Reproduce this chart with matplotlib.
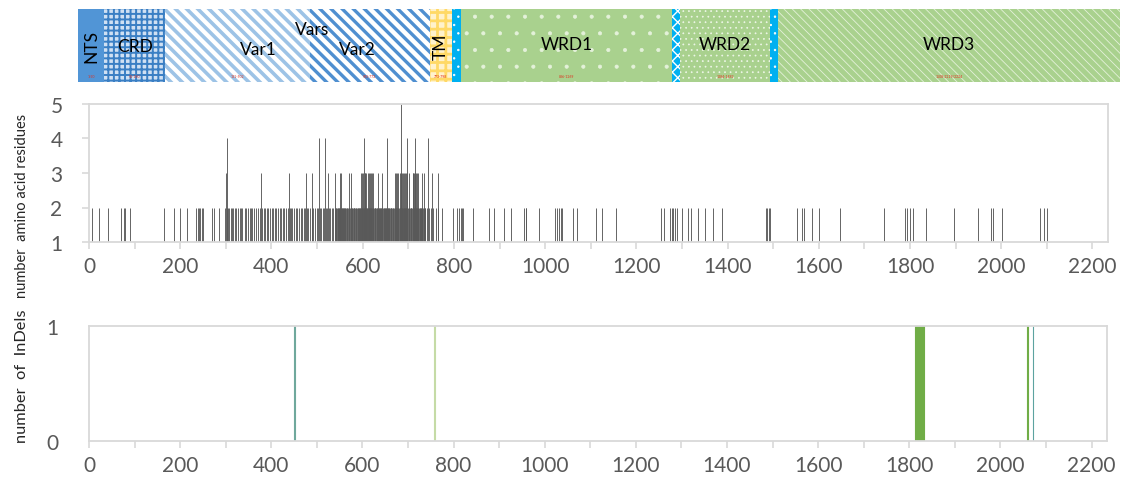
import matplotlib
matplotlib.use("Agg")
import matplotlib.pyplot as plt
from matplotlib.patches import Rectangle
from matplotlib.ticker import MultipleLocator, FuncFormatter

plt.rcParams['font.family'] = ['Lato', 'DejaVu Sans']

# ---------------- data ----------------
# domain architecture (residue units along the bar)
dom_names = ['NTS', 'CRD', 'Var1', 'Var2', 'TM', '', 'WRD1', '', 'WRD2', '', 'WRD3']
dom_start = [0, 55, 186, 495, 751, 798, 818, 1268, 1285, 1477, 1494]
dom_end = [55, 186, 495, 751, 798, 818, 1268, 1285, 1477, 1494, 2224]
dom_range = ['1-50', '51-180', '181-502', '503-772', '773-798', '', '836-1269', '',
             '1284-1482', '', '1508-2219/2224']

# number of amino acid residues at each variable position
pos_h2 = [7, 23, 42, 70, 76, 79, 90, 165, 187, 200, 214, 235, 239, 241, 244, 247, 251,
          269, 275, 284, 298,
          303, 305, 308, 311, 313, 316, 320, 323, 326, 330, 333, 336, 341, 345, 348, 352,
          355, 358, 362, 367, 370, 374, 380, 383, 386, 390, 393, 397, 401, 404, 407, 411,
          415, 418, 421, 425, 428, 432, 436, 440, 443, 446, 450, 453, 457, 461, 464, 468,
          471, 474, 478, 481, 485, 488, 492, 495, 499, 502, 506, 509, 512, 516, 519, 522,
          526, 529, 533, 536,
          540, 541, 542, 544, 545, 546, 547, 549, 550, 551, 552, 554, 555, 556, 557, 559,
          560, 561, 562, 564, 565, 566, 567, 569, 570, 571, 572, 574, 575, 576, 577, 579,
          580, 581, 582, 584, 585, 586, 587, 589, 590, 591, 592, 594, 595, 596, 598, 599,
          600, 602, 603, 604, 605, 607, 608, 609, 610, 612, 613, 614, 615, 617, 618, 619,
          620, 622, 623, 624, 626, 627, 628, 629, 631, 632, 633, 635, 636, 637, 638, 640,
          641, 642, 643, 645, 646, 647, 648, 650, 651, 652, 653, 655, 656, 657, 658, 660,
          661, 662, 663, 665, 666, 667, 668, 670, 671, 672, 673, 675, 676, 677, 678, 680,
          681, 682, 683, 685, 686, 687, 688, 690, 691, 692, 693, 695, 696, 697, 698, 700,
          701, 702, 703, 705, 706, 707, 708, 710, 711, 712, 713, 715, 716, 717, 718, 720,
          721, 722, 723, 725, 726, 727, 728, 730, 731, 733, 734, 736, 737, 740,
          745, 750, 755, 760, 765,
          774, 798, 807, 811, 815, 818, 820, 842, 878, 888, 910, 926, 954, 957, 959, 986,
          1021, 1027, 1030, 1034, 1036, 1060, 1069, 1111, 1124, 1156, 1254, 1261, 1274,
          1278, 1281, 1285, 1289, 1299, 1314, 1319, 1335, 1351, 1368, 1387, 1484, 1487,
          1490, 1494, 1553, 1563, 1567, 1585, 1601, 1647, 1744, 1789, 1794, 1800, 1806,
          1834, 1896, 1949, 1977, 1982, 2002, 2084, 2093, 2100]
pos_h3 = [300, 377, 438, 476, 489, 523, 539, 551, 553, 571, 574, 597, 599, 601, 604, 606,
          608, 611, 613, 615, 618, 620, 623, 633, 643, 670, 672, 675, 678, 681, 683, 686,
          688, 691, 693, 695, 698, 701, 710, 711, 713, 715, 717, 719, 721, 730, 735, 752,
          765]
pos_h4 = [302, 504, 517, 603, 653, 697, 714, 744]
pos_h5 = [684]

# InDels
indel_pos = [451, 758, 1814, 1815, 1816, 1817, 1818, 1819, 1820, 1821, 1822, 1823, 1824,
             1825, 1826, 1827, 1828, 1829, 1830, 1831, 2060, 2072]
indel_num = [1] * len(indel_pos)

x_ticks_major = list(range(0, 2201, 200))

# ---------------- figure ----------------
W, H = 1133, 481
fig = plt.figure(figsize=(W / 100, H / 100), dpi=100)


def fax(l, t, r, b):
    return fig.add_axes([l / W, 1 - b / H, (r - l) / W, (b - t) / H])


# --- domain bar ---
axd = fax(78, 10, 1120, 83)
axd.set_xlim(0, 2224)
axd.set_ylim(0, 1)
axd.axis('off')

styles = {
    'NTS': dict(fc='#5195d6', ec='#5195d6', hatch=None, hlw=1),
    'CRD': dict(fc='#cfe0f3', ec='#3a7fc4', hatch='+++', hlw=1.4),
    'Var1': dict(fc='white', ec='#9dc3e6', hatch='\\\\\\', hlw=2.6),
    'Var2': dict(fc='white', ec='#4f8fd0', hatch='\\\\\\', hlw=2.4),
    'TM': dict(fc='#fff2cc', ec='#ffd966', hatch='++', hlw=2),
    'WRD1': dict(fc='#a9d18e', ec='#e4f1da', hatch='.', hlw=0.5),
    'WRD2': dict(fc='#a9d18e', ec='#eef6e8', hatch='...', hlw=0.5),
    'WRD3': dict(fc='#a9d18e', ec='#e4f1da', hatch='\\\\\\\\', hlw=0.6),
}
link_style = dict(fc='#00b0f0', ec='white', hatch='..', hlw=0.5)

for i, name in enumerate(dom_names):
    st = styles.get(name, link_style)
    if name == '' and i == 7:
        st = dict(fc='#00b0f0', ec='white', hatch='xxx', hlw=1.0)
    p = Rectangle((dom_start[i], 0), dom_end[i] - dom_start[i], 1,
                  facecolor=st['fc'], edgecolor=st['ec'], lw=0, hatch=st['hatch'])
    if hasattr(p, 'set_hatch_linewidth'):
        p.set_hatch_linewidth(st['hlw'])
    axd.add_patch(p)
    if dom_range[i]:
        axd.text((dom_start[i] + dom_end[i]) / 2, 0.08, dom_range[i], color='#e0301e',
                 fontsize=2.5, ha='center', va='center')

lab_fs = 12.5
axd.text((dom_start[0] + dom_end[0]) / 2, 0.5, 'NTS', rotation=90, ha='center',
         va='center', fontsize=lab_fs, color='black')
axd.text(122, 0.5, 'CRD', ha='center', va='center', fontsize=lab_fs, color='black')
axd.text(500, 0.72, 'Vars', ha='center', va='center', fontsize=lab_fs, color='black')
axd.text(384, 0.45, 'Var1', ha='center', va='center', fontsize=lab_fs, color='black')
axd.text(596, 0.45, 'Var2', ha='center', va='center', fontsize=lab_fs, color='black')
axd.text((dom_start[4] + dom_end[4]) / 2, 0.5, 'TM', rotation=90, ha='center',
         va='center', fontsize=lab_fs, color='black')
for i in (6, 8, 10):
    axd.text((dom_start[i] + dom_end[i]) / 2, 0.52, dom_names[i], ha='center',
             va='center', fontsize=lab_fs, color='black')

# --- common axis style ---
spine_c = '#d9d9d9'
tick_c = '#595959'


def style_axis(ax):
    for s in ax.spines.values():
        s.set_color(spine_c)
        s.set_linewidth(1.3)
    ax.set_xlim(0, 2234)
    ax.xaxis.set_major_locator(MultipleLocator(100))
    ax.xaxis.set_major_formatter(FuncFormatter(
        lambda v, p: f'{int(round(v))}' if int(round(v)) in x_ticks_major else ''))
    ax.tick_params(axis='x', colors=spine_c, labelcolor=tick_c, labelsize=15,
                   length=5, width=1.2, pad=5)
    ax.tick_params(axis='y', colors=spine_c, labelcolor=tick_c, labelsize=15,
                   width=1.2)


lab_family = ['Liberation Sans Narrow', 'Lato', 'DejaVu Sans']

# --- amino acid residues ---
ax1 = fax(89, 105, 1108, 243)
style_axis(ax1)
for pos, h in ((pos_h2, 2), (pos_h3, 3), (pos_h4, 4), (pos_h5, 5)):
    ax1.vlines(pos, 1, h, color='#595959', lw=0.65)
ax1.set_ylim(1, 5)
ax1.set_yticks([1, 2, 3, 4, 5])
ax1.tick_params(axis='y', length=5, pad=14)
ax1.set_ylabel('number  amino acid residues', fontsize=10.5, color='#262626',
               family=lab_family)
ax1.yaxis.set_label_coords(-0.059, 0.27)

# --- InDels ---
ax2 = fax(89, 327, 1107, 442)
style_axis(ax2)
indel_col = {451: '#6fa89c', 758: '#c5dba6', 2072: '#5ca3a0'}
cols = [indel_col.get(p, '#70ad47') for p in indel_pos]
ax2.bar(indel_pos, indel_num, width=1.0, color=cols, edgecolor=cols, lw=0.8)
ax2.set_ylim(0, 1)
ax2.set_yticks([0, 1])
ax2.tick_params(axis='y', length=0, pad=22)
ax2.set_ylabel('number  of  InDels', fontsize=11.8, color='#262626',
               family=lab_family)
ax2.yaxis.set_label_coords(-0.059, 0.575)

fig.savefig('out.png', dpi=100)
